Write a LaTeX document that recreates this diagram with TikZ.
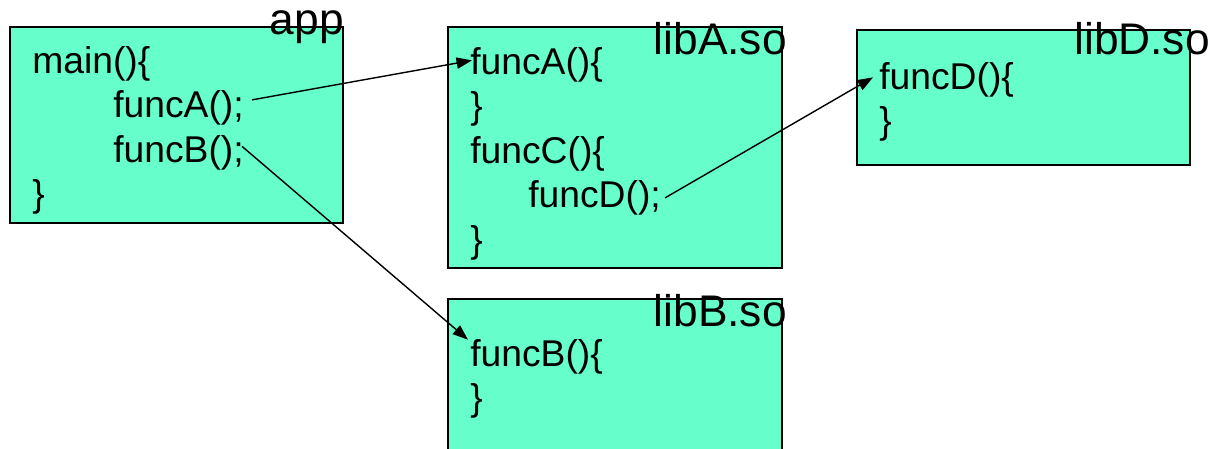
\documentclass[tikz,border=0pt]{standalone}
\usepackage{fontspec}
\setmainfont{Liberation Sans}
\usepackage{tikz}
\usetikzlibrary{arrows.meta}
\definecolor{libgreen}{HTML}{66FFCC}

\begin{document}
\begin{tikzpicture}[x=0.025cm, y=-0.025cm,
  box/.style={fill=libgreen, draw=black, line width=1.3pt},
  code/.style={anchor=base west, inner sep=0pt, font=\fontsize{26.5}{30}\selectfont},
  libname/.style={anchor=base east, inner sep=0pt, font=\fontsize{31.5}{36}\selectfont},
  call/.style={-{Triangle[length=11pt,width=8pt]}, line width=1pt}]
\useasboundingbox (0,0) rectangle (1216,448);
\pgfmathsetmacro{\dy}{44.5} % line spacing
% app
\draw[box] (10,27) rectangle (343,223);
\node[code] (mainF) at (32,73) {main()\{};
\node[code] (callA) at (113,73+\dy) {funcA();};
\node[code] (callB) at (113,73+2*\dy) {funcB();};
\node[code] (mainE) at (32,73+3*\dy) {\}};
\node[libname] (appname) at (344,34) {app};
% libA.so
\draw[box] (448,27) rectangle (782,268);
\node[code] (defA) at (470,74) {funcA()\{};
\node[code] (defAE) at (470,74+\dy) {\}};
\node[code] (defC) at (470,74+2*\dy) {funcC()\{};
\node[code] (callD) at (528,74+3*\dy) {funcD();};
\node[code] (defCE) at (470,74+4*\dy) {\}};
\node[libname] (libAname) at (787,54) {libA.so};
% libD.so
\draw[box] (857,30) rectangle (1190,165);
\node[code] (defD) at (879,89) {funcD()\{};
\node[code] (defDE) at (879,89+\dy) {\}};
\node[libname] (libDname) at (1210,54) {libD.so};
% libB.so
\draw[box] (448,299) rectangle (782,460);
\node[code] (defB) at (470,366) {funcB()\{};
\node[code] (defBE) at (470,366+\dy) {\}};
\node[libname] (libBname) at (787,326) {libB.so};
% calls
\draw[call] ([shift={(8,-8)}]callA.east) -- ([shift={(2,-4)}]defA.west);
\draw[call] ([shift={(-2,-6)}]callB.east) -- ([shift={(-2,1)}]defB.north west);
\draw[call] ([shift={(4,0)}]callD.east) -- ([shift={(-6,-2)}]defD.west);
\end{tikzpicture}
\end{document}
